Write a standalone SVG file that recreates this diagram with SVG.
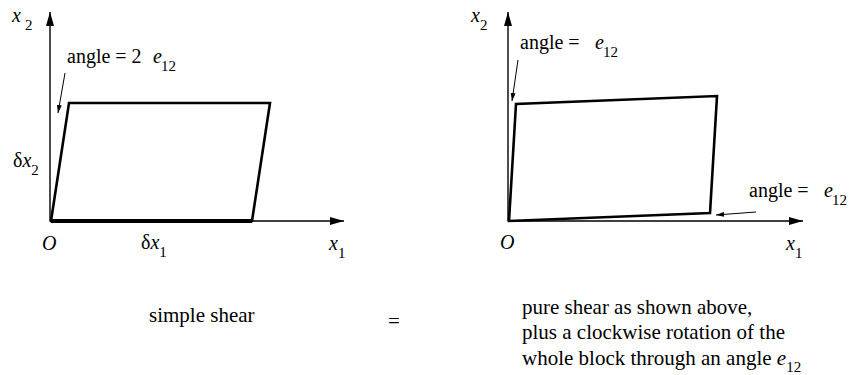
<svg xmlns="http://www.w3.org/2000/svg" width="852" height="375" viewBox="0 0 852 375">
<style>
text{font-family:"Liberation Serif","Times New Roman",serif;fill:#000}
.t{font-size:20px}
.cap{font-size:21px}
.i{font-style:italic}
.s{font-size:15px}
.axis{stroke:#000;stroke-width:1.4;fill:none}
.blk{stroke:#000;stroke-width:2.6;fill:none;stroke-linejoin:miter}
.ptr{stroke:#000;stroke-width:1;fill:none}
</style>
<defs>
<marker id="ah" markerUnits="userSpaceOnUse" markerWidth="14" markerHeight="8" refX="14" refY="4" orient="auto">
<path d="M0,0 L14,4 L0,8 Z" fill="#000"/>
</marker>
<marker id="ps" markerUnits="userSpaceOnUse" markerWidth="8" markerHeight="5" refX="8" refY="2.5" orient="auto">
<path d="M0,0 L8,2.5 L0,5 Z" fill="#000"/>
</marker>
</defs>

<g id="left-diagram">
<g id="left-axes">
<line class="axis" x1="50" y1="221" x2="50" y2="12" marker-end="url(#ah)"/>
<line class="axis" x1="50" y1="221" x2="344" y2="221" marker-end="url(#ah)"/>
</g>
<g id="left-block">
<polygon class="blk" points="51,221 69,103 270,103 252,221"/>
<line x1="51" y1="221" x2="252" y2="221" stroke="#000" stroke-width="4"/>
</g>
<g id="left-labels">
<text class="t i" x="12" y="22">x<tspan class="s" font-style="normal" x="25" y="30">2</tspan></text>
<text class="t" x="67" y="63">angle = 2 <tspan class="i" x="153">e</tspan><tspan class="s" x="161" y="71">12</tspan></text>
<text class="t" x="13" y="167">δ<tspan class="i">x</tspan><tspan class="s" y="175">2</tspan></text>
<text class="t i" x="42" y="250">O</text>
<text class="t" x="141" y="249">δ<tspan class="i">x</tspan><tspan class="s" y="257">1</tspan></text>
<text class="t i" x="329" y="250">x<tspan class="s" font-style="normal" y="258">1</tspan></text>
</g>
</g>

<g id="right-diagram">
<g id="right-axes">
<line class="axis" x1="508" y1="221" x2="508" y2="12" marker-end="url(#ah)"/>
<line class="axis" x1="508" y1="221" x2="803" y2="221" marker-end="url(#ah)"/>
</g>
<g id="right-block">
<polygon class="blk" points="509,221 516,104 717,96 710,213"/>
</g>
<g id="right-labels">
<text class="t i" x="471" y="22">x<tspan class="s" font-style="normal" y="30">2</tspan></text>
<text class="t" x="520" y="49">angle = <tspan class="i" x="595">e</tspan><tspan class="s" x="603" y="57">12</tspan></text>
<text class="t" x="749" y="197">angle = <tspan class="i" x="824">e</tspan><tspan class="s" x="832" y="205">12</tspan></text>
<text class="t i" x="500" y="249">O</text>
<text class="t i" x="786" y="250">x<tspan class="s" font-style="normal" y="258">1</tspan></text>
</g>
</g>

<g id="connectors">
<line class="ptr" x1="65" y1="73" x2="58" y2="113" marker-end="url(#ps)"/>
<line class="ptr" x1="518" y1="60" x2="512" y2="101" marker-end="url(#ps)"/>
<line class="ptr" x1="756" y1="212" x2="716" y2="215" marker-end="url(#ps)"/>
</g>

<g id="captions">
<text class="cap" x="149" y="322">simple shear</text>
<text class="cap" x="388" y="328">=</text>
<text class="cap" x="522" y="314">pure shear as shown above,</text>
<text class="cap" x="522" y="339">plus a clockwise rotation of the</text>
<text class="cap" x="522" y="365">whole block through an angle <tspan class="i">e</tspan><tspan class="s" y="372">12</tspan></text>
</g>
</svg>
